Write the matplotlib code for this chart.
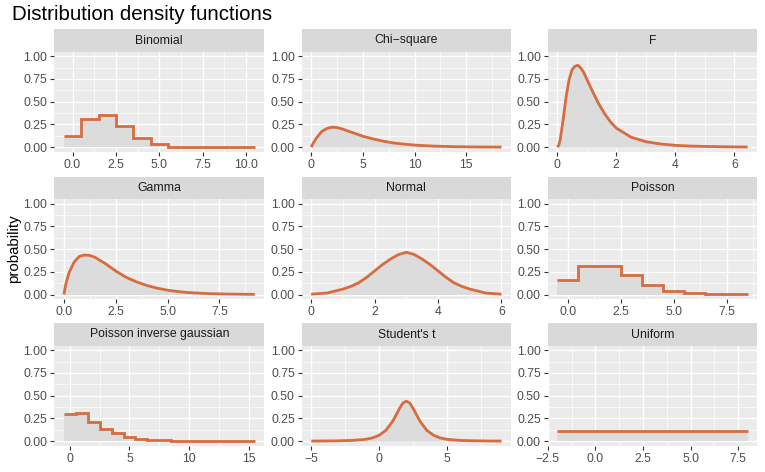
import numpy as np
import matplotlib
matplotlib.use("Agg")
import matplotlib.pyplot as plt

plt.rcParams['font.family'] = ['Liberation Sans', 'DejaVu Sans']

# ---------------- data ----------------
titles = ["Binomial", "Chi\u2212square", "F", "Gamma", "Normal", "Poisson",
          "Poisson inverse gaussian", "Student's t", "Uniform"]

binom_x = [0, 1, 2, 3, 4, 5, 6, 7, 8, 9, 10]
binom_y = [0.126, 0.31, 0.353, 0.234, 0.104, 0.03, 0.007, 0.001, 0.0, 0.0, 0.0]

chisq_x = [0, 0.25, 0.5, 1, 1.5, 2, 2.5, 3, 4, 5, 6, 7, 8, 9, 10, 11, 12, 13, 14, 15, 16, 17, 18.4]
chisq_y = [0, 0.055, 0.10, 0.17, 0.205, 0.22, 0.215, 0.20, 0.16, 0.12, 0.09, 0.065, 0.045,
           0.033, 0.023, 0.016, 0.011, 0.008, 0.005, 0.004, 0.002, 0.0015, 0.001]

f_x = [0, 0.05, 0.1, 0.2, 0.3, 0.4, 0.5, 0.6, 0.7, 0.8, 0.9, 1.0, 1.2, 1.4, 1.6, 1.8,
       2.0, 2.5, 3.0, 3.5, 4.0, 4.5, 5.0, 5.5, 6.0, 6.45]
f_y = [0, 0.02, 0.08, 0.30, 0.55, 0.74, 0.85, 0.89, 0.90, 0.87, 0.82, 0.75, 0.61, 0.48,
       0.37, 0.28, 0.21, 0.11, 0.06, 0.035, 0.02, 0.012, 0.008, 0.005, 0.003, 0.002]

gamma_x = [0, 0.1, 0.25, 0.5, 0.75, 1, 1.25, 1.5, 2, 2.5, 3, 3.5, 4, 4.5, 5, 5.5, 6, 7, 8, 9.2]
gamma_y = [0, 0.12, 0.24, 0.36, 0.42, 0.435, 0.43, 0.41, 0.34, 0.26, 0.19, 0.14, 0.10,
           0.07, 0.048, 0.033, 0.022, 0.01, 0.005, 0.002]

normal_x = [0, 0.5, 1, 1.25, 1.5, 1.75, 2, 2.25, 2.5, 2.75, 3, 3.25, 3.5, 3.75, 4, 4.25,
            4.5, 4.75, 5, 5.5, 6]
normal_y = [0.004, 0.017, 0.06, 0.09, 0.13, 0.19, 0.26, 0.33, 0.39, 0.44, 0.465, 0.44,
            0.39, 0.33, 0.26, 0.19, 0.13, 0.09, 0.06, 0.017, 0.004]

pois_x = [0, 1, 2, 3, 4, 5, 6, 7, 8]
pois_y = [0.155, 0.317, 0.317, 0.21, 0.107, 0.04, 0.018, 0.004, 0.001]

pig_x = [0, 1, 2, 3, 4, 5, 6, 7, 8, 9, 10, 11, 12, 13, 14, 15]
pig_y = [0.30, 0.31, 0.214, 0.133, 0.085, 0.048, 0.026, 0.015, 0.008, 0.005, 0.003,
         0.002, 0.001, 0.0005, 0.0003, 0.0002]

t_x = [-5, -4, -3, -2, -1, -0.5, 0, 0.5, 1, 1.25, 1.5, 1.75, 2, 2.25, 2.5, 2.75, 3, 3.5,
       4, 4.5, 5, 6, 7, 8, 9]
t_y = [0.001, 0.002, 0.004, 0.008, 0.02, 0.035, 0.065, 0.12, 0.22, 0.29, 0.36, 0.42, 0.44,
       0.42, 0.36, 0.29, 0.22, 0.12, 0.065, 0.035, 0.02, 0.008, 0.004, 0.002, 0.001]

unif_x = [-2, 8]
unif_y = [0.111, 0.111]

y_ticks = [0.0, 0.25, 0.5, 0.75, 1.0]
y_labels = ["0.00", "0.25", "0.50", "0.75", "1.00"]

x_ticks = [
    [0, 2.5, 5, 7.5, 10], [0, 5, 10, 15], [0, 2, 4, 6],
    [0, 2.5, 5, 7.5], [0, 2, 4, 6], [0, 2.5, 5, 7.5],
    [0, 5, 10, 15], [-5, 0, 5], [-2.5, 0, 2.5, 5, 7.5],
]
x_labels = [
    ["0.0", "2.5", "5.0", "7.5", "10.0"], ["0", "5", "10", "15"], ["0", "2", "4", "6"],
    ["0.0", "2.5", "5.0", "7.5"], ["0", "2", "4", "6"], ["0.0", "2.5", "5.0", "7.5"],
    ["0", "5", "10", "15"], ["\u22125", "0", "5"], ["\u22122.5", "0.0", "2.5", "5.0", "7.5"],
]

panels = [
    ("step", binom_x, binom_y), ("line", chisq_x, chisq_y), ("line", f_x, f_y),
    ("line", gamma_x, gamma_y), ("line", normal_x, normal_y), ("step", pois_x, pois_y),
    ("step", pig_x, pig_y), ("line", t_x, t_y), ("line", unif_x, unif_y),
]

# ---------------- style ----------------
W, H = 765, 472
LINE = "#D66C3F"
FILL = "#DCDCDC"
PANEL_BG = "#EBEBEB"
STRIP_BG = "#D9D9D9"

fig = plt.figure(figsize=(W / 100, H / 100), dpi=100)
fig.patch.set_facecolor("white")

col_left = [54.3, 301.7, 547.7]
col_w = [210.0, 209.3, 209.5]
row_top = [51.7, 199.1, 345.7]
panel_h = 100.0
strip_h = 22.4


def px(x0, y0, w, h):
    return [x0 / W, 1 - (y0 + h) / H, w / W, h / H]


for i, (kind, xs, ys) in enumerate(panels):
    r, c = divmod(i, 3)
    ax = fig.add_axes(px(col_left[c], row_top[r], col_w[c], panel_h))
    ax.set_facecolor(PANEL_BG)
    for s in ax.spines.values():
        s.set_visible(False)

    xs = np.asarray(xs, dtype=float)
    ys = np.asarray(ys, dtype=float)
    if kind == "step":
        edges = np.append(xs - 0.5, xs[-1] + 0.5)
        ax.stairs(ys, edges, fill=True, color=FILL, baseline=0, zorder=2)
        ax.stairs(ys, edges, baseline=None, color=LINE, linewidth=2.0, zorder=3)
        lo, hi = edges[0], edges[-1]
    else:
        ax.fill_between(xs, 0, ys, color=FILL, linewidth=0, zorder=2)
        ax.plot(xs, ys, color=LINE, linewidth=2.0, solid_capstyle="butt",
                solid_joinstyle="round", zorder=3)
        lo, hi = xs[0], xs[-1]

    span = hi - lo
    ax.set_xlim(lo - 0.05 * span, hi + 0.05 * span)
    ax.set_ylim(-0.05, 1.05)

    xt = x_ticks[i]
    ax.set_xticks(xt)
    ax.set_xticklabels(x_labels[i])
    step = xt[1] - xt[0]
    xmin, xmax = ax.get_xlim()
    minors = [t + step / 2 for t in [xt[0] - step] + list(xt)]
    minors = [m for m in minors if xmin < m < xmax]
    ax.set_xticks(minors, minor=True)

    ax.set_yticks(y_ticks)
    ax.set_yticklabels(y_labels)
    ax.set_yticks([0.125, 0.375, 0.625, 0.875], minor=True)

    ax.grid(which="major", color="white", linewidth=1.0, zorder=0)
    ax.grid(which="minor", color="white", linewidth=0.5, zorder=0)
    ax.set_axisbelow(True)

    ax.tick_params(which="major", length=3.0, width=0.8, color="#333333",
                   labelsize=8.8, labelcolor="#4D4D4D", pad=2)
    ax.tick_params(which="minor", length=0)

    sax = fig.add_axes(px(col_left[c], row_top[r] - strip_h, col_w[c], strip_h))
    sax.set_facecolor(STRIP_BG)
    sax.set_xticks([])
    sax.set_yticks([])
    for s in sax.spines.values():
        s.set_visible(False)
    sax.text(0.5, 0.5, titles[i], ha="center", va="center", fontsize=8.8,
             color="#1A1A1A", transform=sax.transAxes)

fig.text(12 / W, 1 - 14 / H, "Distribution density functions", fontsize=14.8,
         ha="left", va="center", color="black")
fig.text(14 / W, 1 - 249 / H, "probability", fontsize=10.8, rotation=90,
         ha="center", va="center", color="black")

fig.savefig("out.png", dpi=100)
